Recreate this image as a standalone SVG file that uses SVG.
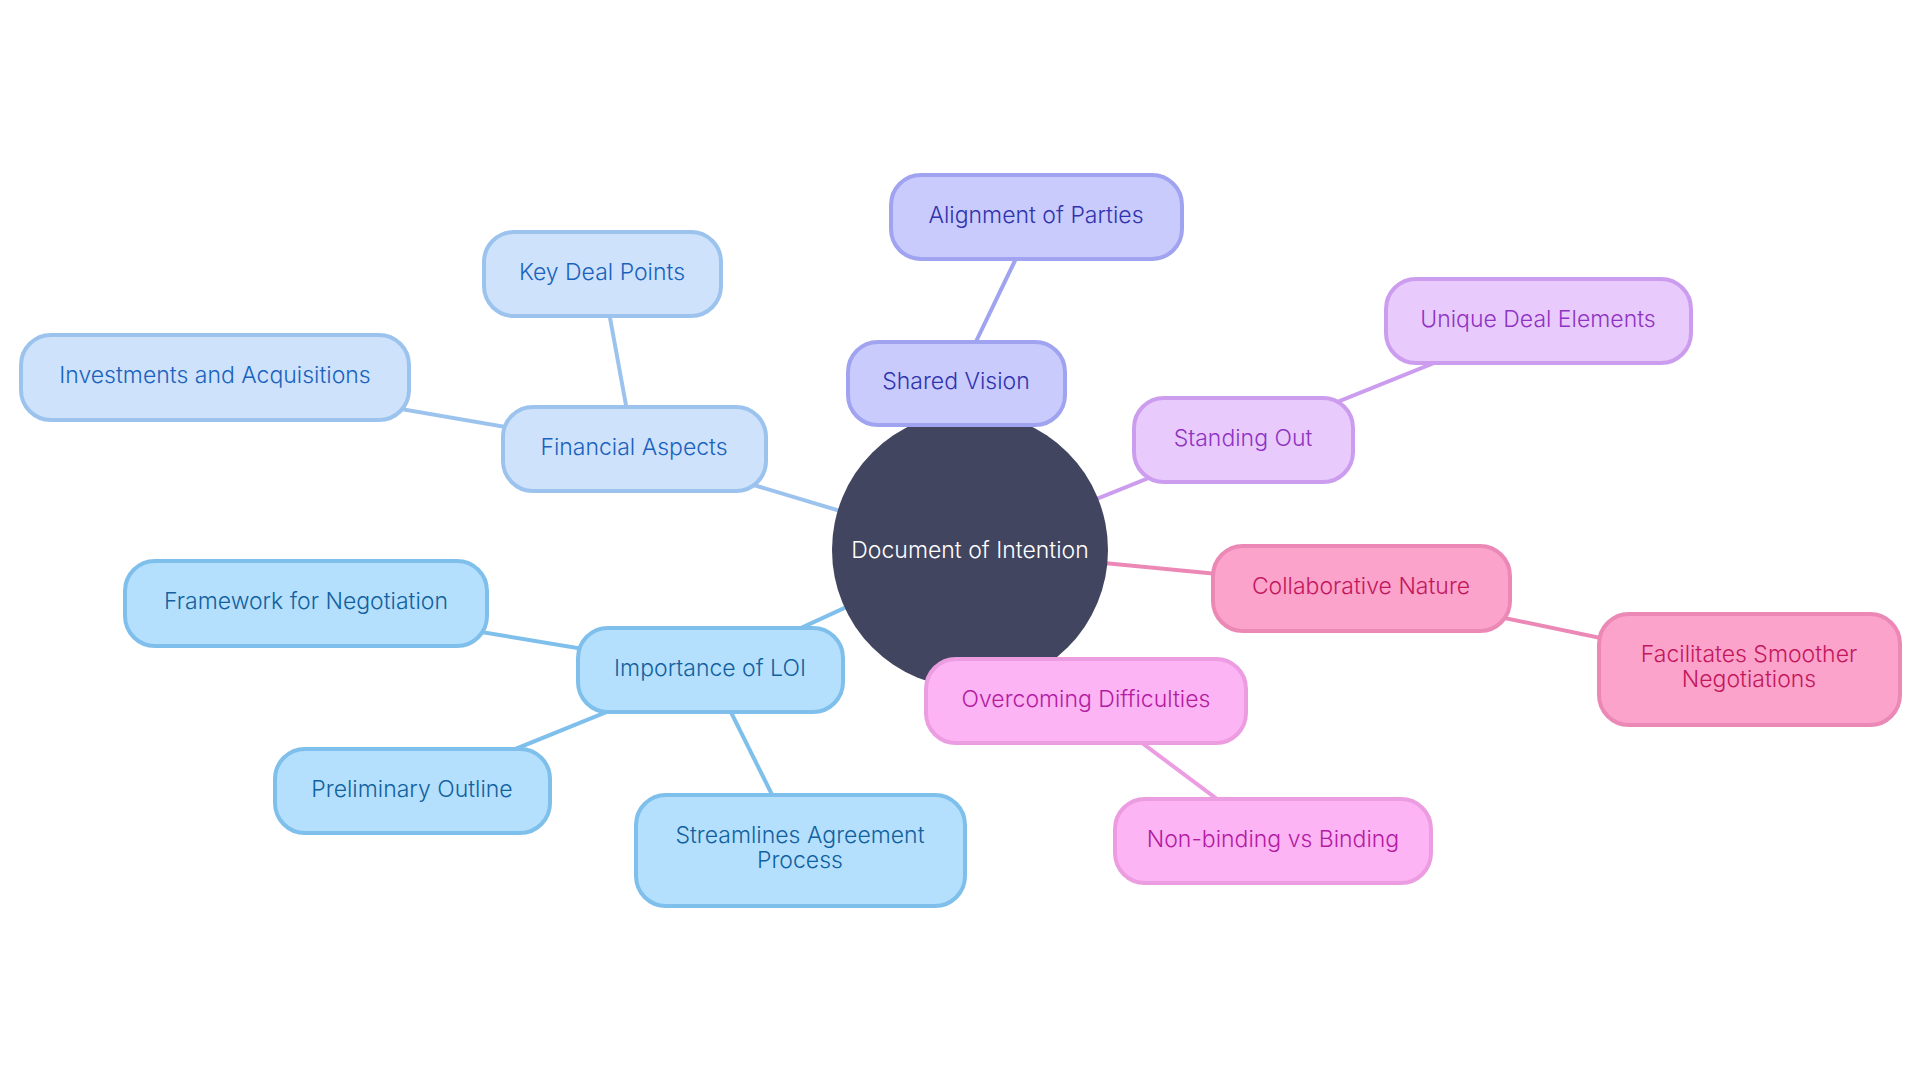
<svg xmlns="http://www.w3.org/2000/svg" width="1920" height="1080" viewBox="0 0 1920 1080">
<style>
text{font-family:Inter,"Open Sans","Liberation Sans",sans-serif;font-size:23px;font-weight:300;text-anchor:middle}
.n rect{stroke-width:4;rx:30;ry:30}
.e line{stroke-width:4;fill:none}
.fa rect{fill:#cee3fb;stroke:#9cc3ee}.fa text{fill:#1a62bd}
.lo rect{fill:#b5e0fd;stroke:#7fbfec}.lo text{fill:#12619f}
.sv rect{fill:#c9cbfd;stroke:#a0a3ef}.sv text{fill:#2f33ae}
.so rect{fill:#e8cbfc;stroke:#cc9dee}.so text{fill:#8f33c3}
.cn rect{fill:#fba3cb;stroke:#eb88b6}.cn text{fill:#c3175d}
.od rect{fill:#fdb4f4;stroke:#ec9de1}.od text{fill:#b21ba2}
</style>
<rect width="1920" height="1080" fill="#ffffff"/>
<g id="connectors" class="e">
<line x1="970" y1="550" x2="634" y2="449" stroke="#9cc3ee"/>
<line x1="634" y1="449" x2="602" y2="274" stroke="#9cc3ee"/>
<line x1="634" y1="449" x2="215" y2="377" stroke="#9cc3ee"/>
<line x1="970" y1="550" x2="710" y2="670" stroke="#7fbfec"/>
<line x1="710" y1="670" x2="306" y2="603" stroke="#7fbfec"/>
<line x1="710" y1="670" x2="412" y2="791" stroke="#7fbfec"/>
<line x1="710" y1="670" x2="800" y2="851" stroke="#7fbfec"/>
<line x1="970" y1="550" x2="956" y2="383" stroke="#a0a3ef"/>
<line x1="956" y1="383" x2="1036" y2="217" stroke="#a0a3ef"/>
<line x1="970" y1="550" x2="1243" y2="440" stroke="#cc9dee"/>
<line x1="1243" y1="440" x2="1538" y2="321" stroke="#cc9dee"/>
<line x1="970" y1="550" x2="1361" y2="588" stroke="#eb88b6"/>
<line x1="1361" y1="588" x2="1749" y2="669" stroke="#eb88b6"/>
<line x1="970" y1="550" x2="1086" y2="701" stroke="#ec9de1"/>
<line x1="1086" y1="701" x2="1273" y2="841" stroke="#ec9de1"/>
</g>
<g id="root">
<circle cx="970" cy="550" r="138" fill="#414560"/>
<text x="970" y="558" fill="#ffffff">Document of Intention</text>
</g>
<g id="financial" class="n fa"><rect x="503" y="407" width="263" height="84"/><text x="634" y="455">Financial Aspects</text></g>
<g id="keydeal" class="n fa"><rect x="484" y="232" width="237" height="84"/><text x="602" y="280">Key Deal Points</text></g>
<g id="investments" class="n fa"><rect x="21" y="335" width="388" height="85"/><text x="215" y="383">Investments and Acquisitions</text></g>
<g id="importance" class="n lo"><rect x="578" y="628" width="265" height="84"/><text x="710" y="676">Importance of LOI</text></g>
<g id="framework" class="n lo"><rect x="125" y="561" width="362" height="85"/><text x="306" y="609">Framework for Negotiation</text></g>
<g id="preliminary" class="n lo"><rect x="275" y="749" width="275" height="84"/><text x="412" y="797">Preliminary Outline</text></g>
<g id="streamlines" class="n lo"><rect x="636" y="795" width="329" height="111"/><text x="800" y="843">Streamlines Agreement</text><text x="800" y="868">Process</text></g>
<g id="shared" class="n sv"><rect x="848" y="342" width="217" height="83"/><text x="956" y="389">Shared Vision</text></g>
<g id="alignment" class="n sv"><rect x="891" y="175" width="291" height="84"/><text x="1036" y="223">Alignment of Parties</text></g>
<g id="standing" class="n so"><rect x="1134" y="398" width="219" height="84"/><text x="1243" y="446">Standing Out</text></g>
<g id="unique" class="n so"><rect x="1386" y="279" width="305" height="84"/><text x="1538" y="327">Unique Deal Elements</text></g>
<g id="collaborative" class="n cn"><rect x="1213" y="546" width="297" height="85"/><text x="1361" y="594">Collaborative Nature</text></g>
<g id="facilitates" class="n cn"><rect x="1599" y="614" width="301" height="111"/><text x="1749" y="662">Facilitates Smoother</text><text x="1749" y="687">Negotiations</text></g>
<g id="overcoming" class="n od"><rect x="926" y="659" width="320" height="84"/><text x="1086" y="707">Overcoming Difficulties</text></g>
<g id="nonbinding" class="n od"><rect x="1115" y="799" width="316" height="84"/><text x="1273" y="847">Non-binding vs Binding</text></g>
</svg>
